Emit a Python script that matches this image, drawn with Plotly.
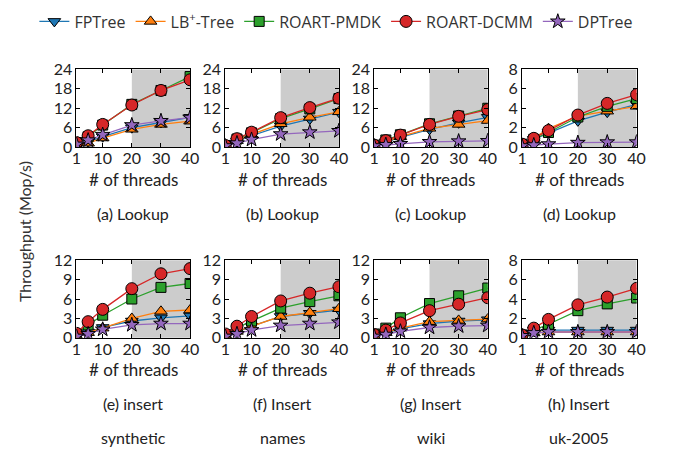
import plotly.graph_objects as go

threads = [1, 5, 10, 20, 30, 40]

series_names = ["FPTree", "LB<sup>+</sup>-Tree", "ROART-PMDK", "ROART-DCMM", "DPTree"]

# panels: a b c d (Lookup) e f g h (Insert)
fptree = [
    [0.6, 1.6, 3.2, 6.0, 7.6, 9.2],
    [0.4, 1.8, 3.5, 6.5, 8.7, 10.8],
    [0.5, 1.6, 3.0, 5.5, 7.5, 9.2],
    [0.3, 0.8, 1.5, 2.7, 3.6, 4.4],
    [0.3, 0.9, 1.6, 2.6, 3.1, 3.4],
    [0.3, 0.9, 1.8, 3.3, 3.8, 4.3],
    [0.3, 0.8, 1.4, 2.2, 2.6, 2.8],
    [0.4, 0.8, 0.8, 0.8, 0.8, 0.8],
]
lbtree = [
    [0.5, 1.2, 2.8, 5.5, 7.0, 8.0],
    [0.4, 2.0, 3.9, 7.2, 9.2, 10.9],
    [0.5, 1.8, 3.2, 5.8, 7.0, 8.2],
    [0.3, 0.9, 1.9, 3.2, 3.7, 4.2],
    [0.3, 0.8, 1.5, 3.0, 4.1, 4.3],
    [0.4, 1.0, 1.8, 3.3, 3.9, 4.5],
    [0.3, 0.8, 1.5, 2.5, 2.7, 2.9],
    [0.2, 0.5, 0.6, 0.6, 0.6, 0.6],
]
roart_pmdk = [
    [1.4, 3.2, 6.8, 13.2, 17.5, 21.8],
    [0.5, 2.5, 4.4, 8.8, 11.8, 15.0],
    [0.6, 2.2, 3.8, 7.2, 9.6, 12.0],
    [0.3, 0.8, 1.5, 3.1, 4.2, 5.0],
    [0.6, 2.0, 3.5, 6.0, 7.8, 8.4],
    [0.5, 1.5, 2.6, 4.6, 5.6, 6.5],
    [0.6, 1.5, 3.1, 5.3, 6.5, 7.7],
    [0.3, 0.8, 1.4, 2.8, 3.5, 4.1],
]
roart_dcmm = [
    [1.4, 3.5, 7.0, 13.0, 17.5, 20.8],
    [0.5, 2.6, 4.6, 9.1, 12.2, 15.1],
    [0.6, 2.0, 3.7, 7.0, 9.5, 11.6],
    [0.3, 0.9, 1.7, 3.3, 4.5, 5.4],
    [0.7, 2.5, 4.4, 7.6, 9.9, 10.7],
    [0.6, 1.8, 3.3, 5.7, 6.9, 7.9],
    [0.5, 1.2, 2.3, 4.2, 5.2, 6.2],
    [0.3, 1.0, 1.9, 3.4, 4.2, 5.1],
]
dptree = [
    [0.8, 2.1, 3.8, 6.8, 8.1, 9.1],
    [0.3, 1.2, 2.3, 4.0, 4.6, 5.0],
    [0.3, 0.7, 1.0, 1.6, 1.8, 1.9],
    [0.1, 0.2, 0.3, 0.45, 0.5, 0.5],
    [0.2, 0.6, 1.3, 2.0, 2.2, 2.2],
    [0.2, 0.6, 1.2, 1.9, 2.2, 2.4],
    [0.2, 0.5, 1.0, 1.6, 1.8, 1.9],
    [0.2, 0.5, 0.6, 0.6, 0.6, 0.6],
]

captions = ["(a) Lookup", "(b) Lookup", "(c) Lookup", "(d) Lookup",
            "(e) insert", "(f) Insert", "(g) Insert", "(h) Insert"]
datasets = ["synthetic", "names", "wiki", "uk-2005"]
y_max = [24, 24, 24, 8, 12, 12, 12, 8]
y_ticks = [[0, 6, 12, 18, 24], [0, 6, 12, 18, 24], [0, 6, 12, 18, 24], [0, 2, 4, 6, 8],
           [0, 3, 6, 9, 12], [0, 3, 6, 9, 12], [0, 3, 6, 9, 12], [0, 2, 4, 6, 8]]
x_ticks = [1, 10, 20, 30, 40]

colors = ["#1f77b4", "#ff7f0e", "#2ca02c", "#d62728", "#9467bd"]
symbols = ["triangle-down", "triangle-up", "square", "circle", "star"]
sizes = [11, 11, 10, 12, 11]
all_series = [fptree, lbtree, roart_pmdk, roart_dcmm, dptree]

W, H = 675, 459
col_px = [(73, 189), (225, 341), (377, 493), (528, 645)]
row_px = [(62, 143), (261, 342)]

FONT = "Lato"
TXT = "#222222"

fig = go.Figure()
layout = {}
shapes = []
annotations = []

for p in range(8):
    r, c = divmod(p, 4)
    ax = "" if p == 0 else str(p + 1)
    x0, x1 = col_px[c]
    y0, y1 = row_px[r]
    layout["xaxis" + ax] = dict(
        domain=[x0 / W, x1 / W], range=[1, 40], tickvals=x_ticks,
        anchor="y" + ax, showline=True, linecolor="black", linewidth=1,
        mirror="ticks", ticks="inside", ticklen=4, tickcolor="black",
        showgrid=False, zeroline=False, ticklabelstandoff=-3,
        tickfont=dict(family=FONT, size=16, color=TXT),
    )
    layout["yaxis" + ax] = dict(
        domain=[1 - y1 / H, 1 - y0 / H], range=[0, y_max[p]], tickvals=y_ticks[p],
        anchor="x" + ax, showline=True, linecolor="black", linewidth=1,
        mirror="ticks", ticks="inside", ticklen=4, tickcolor="black",
        showgrid=False, zeroline=False,
        tickfont=dict(family=FONT, size=16, color=TXT),
    )
    shapes.append(dict(type="rect", xref="x" + ax, yref="y" + ax + " domain",
                       x0=20, x1=40, y0=0, y1=1, fillcolor="#cccccc",
                       line=dict(width=0), layer="below"))
    for s in range(5):
        fig.add_trace(go.Scatter(
            x=threads, y=all_series[s][p], mode="lines+markers",
            name=series_names[s], legendgroup=series_names[s], showlegend=(p == 0),
            xaxis="x" + ax, yaxis="y" + ax,
            line=dict(color=colors[s], width=1.3),
            marker=dict(symbol=symbols[s], size=sizes[s], color=colors[s],
                        line=dict(color="black", width=1)),
        ))
    cx = (x0 + x1) / 2 / W
    ty = 177 if r == 0 else 375
    annotations.append(dict(text="# of threads", x=cx, y=1 - ty / H, xref="paper", yref="paper",
                            showarrow=False, font=dict(family=FONT, size=17, color=TXT),
                            xanchor="center", yanchor="middle"))
    cy = 212 if r == 0 else 411
    annotations.append(dict(text=captions[p], x=cx, y=1 - cy / H, xref="paper", yref="paper",
                            showarrow=False, font=dict(family=FONT, size=16, color=TXT),
                            xanchor="center", yanchor="middle"))
    if r == 1:
        annotations.append(dict(text=datasets[c], x=cx, y=1 - 446 / H, xref="paper", yref="paper",
                                showarrow=False, font=dict(family=FONT, size=16, color=TXT),
                                xanchor="center", yanchor="middle"))

annotations.append(dict(text="Throughput (Mop/s)", x=20 / W, y=1 - 231 / H, xref="paper", yref="paper",
                        showarrow=False, textangle=-90, font=dict(family=FONT, size=16, color="#333333"),
                        xanchor="center", yanchor="middle"))

fig.update_layout(
    width=W, height=H, margin=dict(l=0, r=0, t=0, b=0),
    paper_bgcolor="white", plot_bgcolor="white",
    shapes=shapes, annotations=annotations,
    legend=dict(orientation="h", x=30 / W, y=1 - 12 / H, xanchor="left", yanchor="middle",
                font=dict(family="Open Sans", size=16, color="#333333"),
                bgcolor="rgba(0,0,0,0)", itemwidth=30, traceorder="normal"),
    **layout,
)

fig.write_html("out.html", config={"displayModeBar": False},
               post_script="document.body.style.margin='0';")
